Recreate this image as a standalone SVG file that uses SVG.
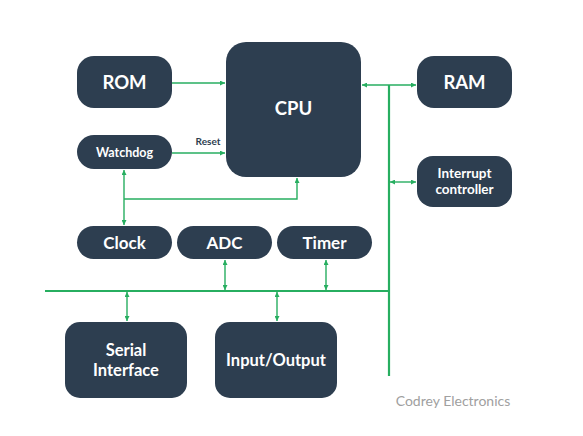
<svg xmlns="http://www.w3.org/2000/svg" width="583" height="436" viewBox="0 0 583 436">
<defs>
<marker id="ah" viewBox="0 0 10 10" refX="10" refY="5" markerWidth="7" markerHeight="5" markerUnits="userSpaceOnUse" orient="auto-start-reverse">
<path d="M0,0 L10,5 L0,10 z" fill="#27ae60"/>
</marker>
<style>
.n{fill:#2d3e50}
.t{fill:#fff;font-family:Lato,"Open Sans",sans-serif;font-weight:bold;text-anchor:middle}
.c{stroke:#27ae60;stroke-width:1.4;fill:none}
.b{stroke:#27ae60;stroke-width:2.2;fill:none}
</style>
</defs>
<rect width="583" height="436" fill="#fff"/>
<g id="connectors">
<path class="b" d="M45,291 H389 M389,85 V376"/>
<path class="c" d="M172,83 H225" marker-end="url(#ah)"/>
<path class="c" d="M172,153 H225" marker-end="url(#ah)"/>
<path class="c" d="M362,85 H416" marker-start="url(#ah)" marker-end="url(#ah)"/>
<path class="c" d="M390,182 H416" marker-start="url(#ah)" marker-end="url(#ah)"/>
<path class="c" d="M124,170 V225" marker-start="url(#ah)" marker-end="url(#ah)"/>
<path class="c" d="M124,199 H297 V178" marker-end="url(#ah)"/>
<path class="c" d="M225,260 V290" marker-start="url(#ah)" marker-end="url(#ah)"/>
<path class="c" d="M326,260 V290" marker-start="url(#ah)" marker-end="url(#ah)"/>
<path class="c" d="M127,292 V321" marker-start="url(#ah)" marker-end="url(#ah)"/>
<path class="c" d="M277,292 V321" marker-start="url(#ah)" marker-end="url(#ah)"/>
<text x="208" y="145" font-family="Lato,'Open Sans',sans-serif" font-size="10" font-weight="bold" fill="#2d3e50" text-anchor="middle">Reset</text>
</g>
<g id="rom"><rect class="n" x="77" y="56" width="95" height="52" rx="17"/><text class="t" x="124.5" y="89" font-size="18.5">ROM</text></g>
<g id="cpu"><rect class="n" x="226" y="42" width="135" height="135" rx="20"/><text class="t" x="293.5" y="115" font-size="18.5">CPU</text></g>
<g id="ram"><rect class="n" x="417" y="56" width="95" height="52" rx="17"/><text class="t" x="464.5" y="89" font-size="18.5">RAM</text></g>
<g id="watchdog"><rect class="n" x="77" y="135" width="95" height="34" rx="17"/><text class="t" x="124.5" y="156.5" font-size="12.5">Watchdog</text></g>
<g id="interrupt"><rect class="n" x="417" y="156" width="95" height="51" rx="16"/><text class="t" x="464.5" y="178" font-size="13.5">Interrupt</text><text class="t" x="464.5" y="194" font-size="13.5">controller</text></g>
<g id="clock"><rect class="n" x="77" y="226" width="95" height="33" rx="16.5"/><text class="t" x="124.5" y="248.5" font-size="17">Clock</text></g>
<g id="adc"><rect class="n" x="177" y="226" width="95" height="33" rx="16.5"/><text class="t" x="224.5" y="248.5" font-size="17">ADC</text></g>
<g id="timer"><rect class="n" x="277" y="226" width="95" height="33" rx="16.5"/><text class="t" x="324.5" y="248.5" font-size="17">Timer</text></g>
<g id="serial"><rect class="n" x="65" y="322" width="122" height="76" rx="15"/><text class="t" x="126" y="356" font-size="16.5">Serial</text><text class="t" x="126" y="376" font-size="16.5">Interface</text></g>
<g id="io"><rect class="n" x="215" y="322" width="122" height="76" rx="15"/><text class="t" x="276" y="366" font-size="16.5">Input/Output</text></g>
<text x="453" y="406" font-family="Lato,'Open Sans',sans-serif" font-size="14" fill="#a0a0a0" text-anchor="middle">Codrey Electronics</text>
</svg>
